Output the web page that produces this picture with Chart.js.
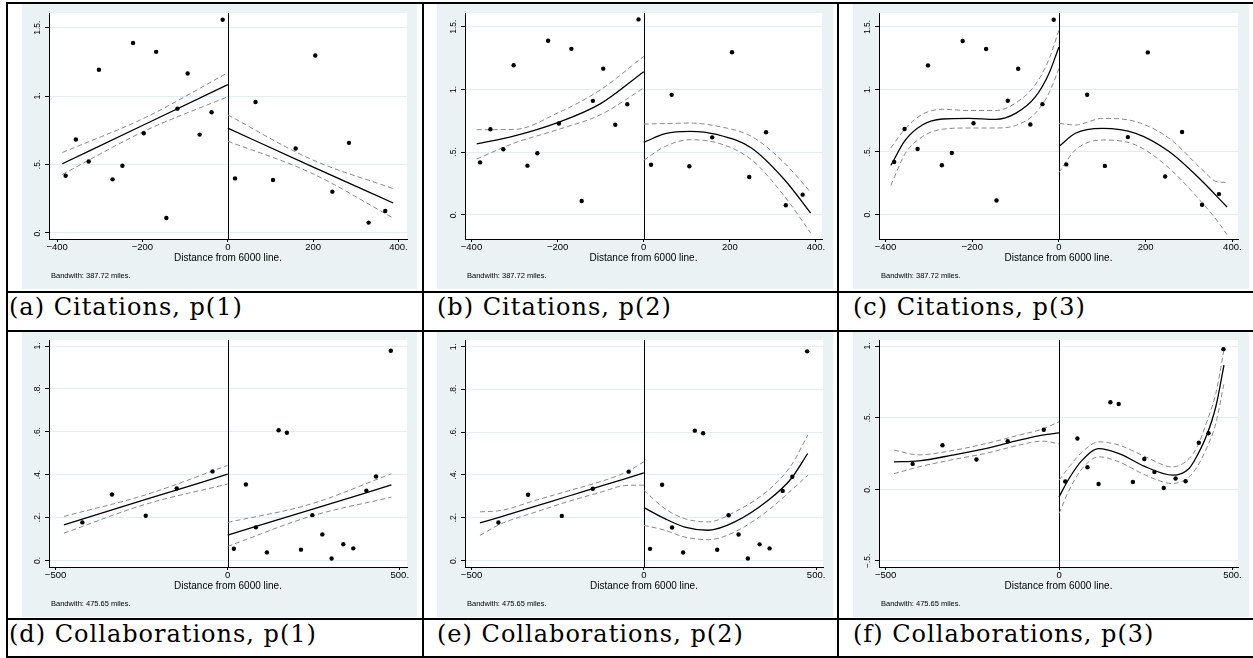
<!DOCTYPE html>
<html>
<head>
<meta charset="utf-8">
<script src="https://cdn.jsdelivr.net/npm/chart.js@4.4.1/dist/chart.umd.min.js"></script>
<style>
  body { margin: 0; background: #fff; }
  #page { position: relative; width: 1253px; height: 658px; overflow: hidden; }
  #page canvas { position: absolute; }
  .rule { position: absolute; background: #000; }
  .cap { position: absolute; font-family: "DejaVu Serif", serif; font-size: 24px; line-height: 24px; letter-spacing: 1px; color: #000; white-space: nowrap; }
</style>
</head>
<body>
<div id="page"></div>
<script>
// // Citations: same bins in panels a, b, c
const citeX = [-380, -356, -326, -302, -270, -247, -222, -197, -168, -144, -118, -94, -66, -38, -12,
               17, 65, 106, 159, 205, 245, 284, 330, 369];
const citeY = [0.417, 0.682, 0.522, 1.192, 0.391, 0.490, 1.388, 0.728, 1.323, 0.109, 0.908, 1.165, 0.718, 0.881, 1.558,
               0.398, 0.956, 0.386, 0.617, 1.296, 0.301, 0.658, 0.075, 0.160];

// // Collaborations: same bins in panels d, e, f
const collabX = [-422, -336, -238, -148, -44,
                 18, 53, 82, 114, 148, 172, 213, 246, 275, 302, 336, 365, 403, 431, 474];
const collabY = [0.177, 0.307, 0.208, 0.335, 0.415,
                 0.054, 0.354, 0.154, 0.037, 0.607, 0.595, 0.050, 0.211, 0.121, 0.009, 0.075, 0.056, 0.325, 0.391, 0.978];

// ticks
const citeXTicks = [-400, -200, 0, 200, 400];
const citeXLabels = ["\u2212400", "\u2212200", "0", "200", "400."];
const citeYTicks = [0, 0.5, 1, 1.5];
const citeYLabels = ["0.", ".5.", "1.", "1.5."];
const collabXTicks = [-500, 0, 500];
const collabXLabels = ["\u2212500", "0", "500."];
const collabYTicks = [0, 0.2, 0.4, 0.6, 0.8, 1];
const collabYLabels = ["0.", ".2.", ".4.", ".6.", ".8.", "1."];
const collabY3Ticks = [-0.5, 0, 0.5, 1];
const collabY3Labels = ["\u2212.5.", "0.", ".5.", "1."];

// fits (fit, upper and lower CI)
const aLeftX = [-387.72, -193.86, 0];
const aLeftFit = [0.505, 0.794, 1.083];
const aLeftHi = [0.587, 0.842, 1.170];
const aLeftLo = [0.427, 0.746, 0.995];
const aRightX = [0, 193.86, 387.72];
const aRightFit = [0.765, 0.490, 0.218];
const aRightHi = [0.862, 0.540, 0.323];
const aRightLo = [0.670, 0.440, 0.109];

const bLeftX = [-387.72, -300, -200, -100, 0];
const bLeftFit = [0.564, 0.628, 0.734, 0.886, 1.141];
const bLeftHi = [0.678, 0.680, 0.811, 0.997, 1.263];
const bLeftLo = [0.444, 0.572, 0.678, 0.798, 1.011];
const bRightX = [0, 50, 107, 172, 250, 327, 387.72];
const bRightFit = [0.577, 0.646, 0.665, 0.638, 0.532, 0.279, 0.013];
const bRightHi = [0.723, 0.727, 0.731, 0.705, 0.625, 0.412, 0.178];
const bRightLo = [0.434, 0.545, 0.598, 0.572, 0.439, 0.146, -0.146];

const cLeftX = [-387.72, -354, -315, -269, -208, -146, -100, -54, -23, 0];
const cLeftFit = [0.390, 0.594, 0.714, 0.762, 0.767, 0.759, 0.807, 0.941, 1.127, 1.340];
const cLeftHi = [0.530, 0.687, 0.800, 0.840, 0.830, 0.830, 0.890, 1.040, 1.240, 1.475];
const cLeftLo = [0.230, 0.488, 0.620, 0.680, 0.690, 0.690, 0.710, 0.810, 0.970, 1.167];
const cRightX = [0, 38, 100, 177, 254, 331, 362, 387.72];
const cRightFit = [0.541, 0.648, 0.687, 0.647, 0.501, 0.261, 0.150, 0.056];
const cRightHi = [0.727, 0.714, 0.767, 0.741, 0.608, 0.354, 0.262, 0.253];
const cRightLo = [0.333, 0.514, 0.594, 0.554, 0.368, 0.088, -0.040, -0.165];

const dLeftX = [-475.65, -237.8, 0];
const dLeftFit = [0.166, 0.284, 0.402];
const dLeftHi = [0.205, 0.306, 0.443];
const dLeftLo = [0.127, 0.262, 0.356];
const dRightX = [0, 240, 475.65];
const dRightFit = [0.118, 0.235, 0.352];
const dRightHi = [0.177, 0.262, 0.404];
const dRightLo = [0.065, 0.205, 0.295];

const eLeftX = [-475.65, -413, -316, -220, -123, -55, 0];
const eLeftFit = [0.175, 0.205, 0.253, 0.300, 0.348, 0.381, 0.409];
const eLeftHi = [0.227, 0.234, 0.280, 0.325, 0.370, 0.410, 0.461];
const eLeftLo = [0.117, 0.172, 0.225, 0.275, 0.320, 0.350, 0.352];
const eRightX = [0, 61, 119, 187, 264, 361, 428, 475.65];
const eRightFit = [0.247, 0.195, 0.156, 0.141, 0.180, 0.281, 0.383, 0.500];
const eRightHi = [0.328, 0.242, 0.195, 0.180, 0.227, 0.328, 0.445, 0.586];
const eRightLo = [0.164, 0.141, 0.109, 0.097, 0.133, 0.234, 0.328, 0.398];

const fLeftX = [-475.65, -404, -308, -212, -115, -48, 0];
const fLeftFit = [0.191, 0.198, 0.238, 0.284, 0.343, 0.378, 0.394];
const fLeftHi = [0.273, 0.240, 0.270, 0.318, 0.378, 0.420, 0.471];
const fLeftLo = [0.109, 0.156, 0.206, 0.250, 0.308, 0.336, 0.317];
const fRightX = [0, 29, 67, 115, 173, 250, 327, 375, 399, 426, 452, 475.65];
const fRightFit = [-0.054, 0.075, 0.203, 0.284, 0.249, 0.156, 0.098, 0.145, 0.238, 0.378, 0.576, 0.867];
const fRightHi = [0.063, 0.156, 0.261, 0.331, 0.308, 0.226, 0.156, 0.214, 0.300, 0.470, 0.669, 0.972];
const fRightLo = [-0.170, -0.007, 0.145, 0.226, 0.191, 0.098, 0.040, 0.086, 0.160, 0.290, 0.459, 0.739];

const captions = ["(a) Citations, p(1)", "(b) Citations, p(2)", "(c) Citations, p(3)",
                  "(d) Collaborations, p(1)", "(e) Collaborations, p(2)", "(f) Collaborations, p(3)"];

const pts = (xs, ys) => xs.map((x, i) => ({ x: x, y: ys[i] }));

const curve = (xs, ys, ci) => ({
    data: pts(xs, ys),
    showLine: true,
    pointRadius: 0,
    borderColor: ci ? "#8a8a8a" : "#000",
    borderWidth: ci ? 1 : 1.3,
    borderDash: ci ? [5, 3] : [],
    cubicInterpolationMode: "monotone",
    fill: false
});

// stata-ish background, zero line, rotated y labels, axis title and note
const stataLook = {
    id: "stataLook",
    beforeDraw(chart) {
        const { ctx, chartArea: a, width, height } = chart;
        ctx.save();
        ctx.fillStyle = "#eaf2f3";
        ctx.fillRect(0, 0, width, height);
        ctx.fillStyle = "#fff";
        ctx.fillRect(a.left, a.top, a.right - a.left, a.bottom - a.top);
        ctx.restore();
    },
    beforeDatasetsDraw(chart) {
        const { ctx, chartArea: a } = chart;
        const x0 = Math.round(chart.scales.x.getPixelForValue(0)) + 0.5;
        ctx.save();
        ctx.strokeStyle = "#000";
        ctx.lineWidth = 1;
        ctx.beginPath();
        ctx.moveTo(x0, a.top);
        ctx.lineTo(x0, a.bottom);
        ctx.stroke();
        ctx.restore();
    },
    afterDraw(chart, args, opts) {
        const { ctx, chartArea: a } = chart;
        const y = chart.scales.y;
        ctx.save();
        ctx.fillStyle = "#000";
        ctx.font = "8.5px 'Liberation Sans'";
        ctx.textAlign = "center";
        ctx.textBaseline = "middle";
        opts.yTicks.forEach((v, i) => {
            ctx.save();
            ctx.translate(a.left - 11, y.getPixelForValue(v));
            ctx.rotate(-Math.PI / 2);
            ctx.fillText(opts.yLabels[i], 0, 0);
            ctx.restore();
        });
        ctx.font = "10px 'Liberation Sans'";
        ctx.fillText("Distance from 6000 line.", (a.left + a.right) / 2, a.bottom + 19);
        ctx.font = "7.5px 'Liberation Sans'";
        ctx.textAlign = "left";
        ctx.fillText(opts.note, a.left + 2, a.bottom + 37);
        ctx.restore();
    }
};

const setupPanel = (p) => {
    const canvas = document.createElement("canvas");
    canvas.width = p.w;
    canvas.height = p.h;
    canvas.style.left = p.left + "px";
    canvas.style.top = p.top + "px";
    document.getElementById("page").appendChild(canvas);

    const datasets = [
        { data: pts(p.x, p.y), showLine: false, pointRadius: 2.2, borderWidth: 0, backgroundColor: "#000" },
        curve(p.lx, p.lfit, false), curve(p.lx, p.lhi, true), curve(p.lx, p.llo, true),
        curve(p.rx, p.rfit, false), curve(p.rx, p.rhi, true), curve(p.rx, p.rlo, true)
    ];

    const options = {
        responsive: false,
        animation: false,
        events: [],
        layout: { padding: { left: 0, top: p.padT, right: p.padR, bottom: 0 } },
        plugins: {
            legend: { display: false },
            tooltip: { enabled: false },
            stataLook: { yTicks: p.yTicks, yLabels: p.yLabels, note: p.note }
        },
        scales: {
            x: {
                type: "linear",
                min: p.xMin,
                max: p.xMax,
                afterBuildTicks: s => { s.ticks = p.xTicks.map(v => ({ value: v })); },
                afterFit: s => { s.height = 50; },
                ticks: {
                    callback: (v, i) => p.xLabels[i],
                    font: { family: "'Liberation Sans'", size: 9.5 },
                    color: "#000",
                    padding: 0,
                    maxRotation: 0,
                    autoSkip: false
                },
                grid: { drawOnChartArea: false, tickLength: 3, tickColor: "#000" },
                border: { color: "#000", width: 1 }
            },
            y: {
                min: p.yMin,
                max: p.yMax,
                afterBuildTicks: s => { s.ticks = p.yTicks.map(v => ({ value: v })); },
                afterFit: s => { s.width = p.padL; },
                ticks: { display: false },
                grid: { color: "#e3edef", lineWidth: 1, tickLength: 4, tickColor: "#000" },
                border: { color: "#000", width: 1 }
            }
        }
    };

    new Chart(canvas, {
        type: "scatter",
        data: { datasets: datasets },
        options: options,
        plugins: [stataLook]
    });
};

const cite = { x: citeX, y: citeY, xTicks: citeXTicks, xLabels: citeXLabels, yTicks: citeYTicks, yLabels: citeYLabels,
               note: "Bandwith: 387.72 miles.", h: 285, top: 4, padT: 9 };
const collab = { x: collabX, y: collabY, xTicks: collabXTicks, xLabels: collabXLabels, yTicks: collabYTicks, yLabels: collabYLabels,
                 note: "Bandwith: 475.65 miles.", h: 285, top: 332, padT: 8 };

const panels = [
    Object.assign({}, cite, { left: 22, w: 395, padL: 27, padR: 10, xMin: -419, xMax: 420, yMin: -0.045, yMax: 1.607,
        lx: aLeftX, lfit: aLeftFit, lhi: aLeftHi, llo: aLeftLo, rx: aRightX, rfit: aRightFit, rhi: aRightHi, rlo: aRightLo }),
    Object.assign({}, cite, { left: 437, w: 396, padL: 28, padR: 11, xMin: -415, xMax: 414, yMin: -0.194, yMax: 1.609,
        lx: bLeftX, lfit: bLeftFit, lhi: bLeftHi, llo: bLeftLo, rx: bRightX, rfit: bRightFit, rhi: bRightHi, rlo: bRightLo }),
    Object.assign({}, cite, { left: 853, w: 396, padL: 26, padR: 11, xMin: -415, xMax: 413, yMin: -0.2, yMax: 1.612,
        lx: cLeftX, lfit: cLeftFit, lhi: cLeftHi, llo: cLeftLo, rx: cRightX, rfit: cRightFit, rhi: cRightHi, rlo: cRightLo }),
    Object.assign({}, collab, { left: 22, w: 395, padL: 27, padR: 10, xMin: -519, xMax: 521, yMin: -0.031, yMax: 1.028,
        lx: dLeftX, lfit: dLeftFit, lhi: dLeftHi, llo: dLeftLo, rx: dRightX, rfit: dRightFit, rhi: dRightHi, rlo: dRightLo }),
    Object.assign({}, collab, { left: 437, w: 396, padL: 28, padR: 10, xMin: -519, xMax: 520, yMin: -0.031, yMax: 1.031,
        lx: eLeftX, lfit: eLeftFit, lhi: eLeftHi, llo: eLeftLo, rx: eRightX, rfit: eRightFit, rhi: eRightHi, rlo: eRightLo }),
    Object.assign({}, collab, { left: 853, w: 396, padL: 26, padR: 11, xMin: -519, xMax: 516, yMin: -0.543, yMax: 1.042,
        yTicks: collabY3Ticks, yLabels: collabY3Labels,
        lx: fLeftX, lfit: fLeftFit, lhi: fLeftHi, llo: fLeftLo, rx: fRightX, rfit: fRightFit, rhi: fRightHi, rlo: fRightLo })
];

// table rules
const page = document.getElementById("page");
const rule = (l, t, w, h) => {
    const d = document.createElement("div");
    d.className = "rule";
    d.style.left = l + "px"; d.style.top = t + "px";
    d.style.width = w + "px"; d.style.height = h + "px";
    page.appendChild(d);
};
[2, 291, 330, 618, 656].forEach(t => rule(6, t, 1247, 2));
[6, 422, 837].forEach(l => rule(l, 2, 2, 656));

// captions
const capLeft = [9, 437, 853];
captions.forEach((c, i) => {
    const d = document.createElement("div");
    d.className = "cap";
    d.textContent = c;
    d.style.left = capLeft[i % 3] + "px";
    d.style.top = (i < 3 ? 295 : 622) + "px";
    page.appendChild(d);
});

panels.forEach(setupPanel);
</script>
</body>
</html>
